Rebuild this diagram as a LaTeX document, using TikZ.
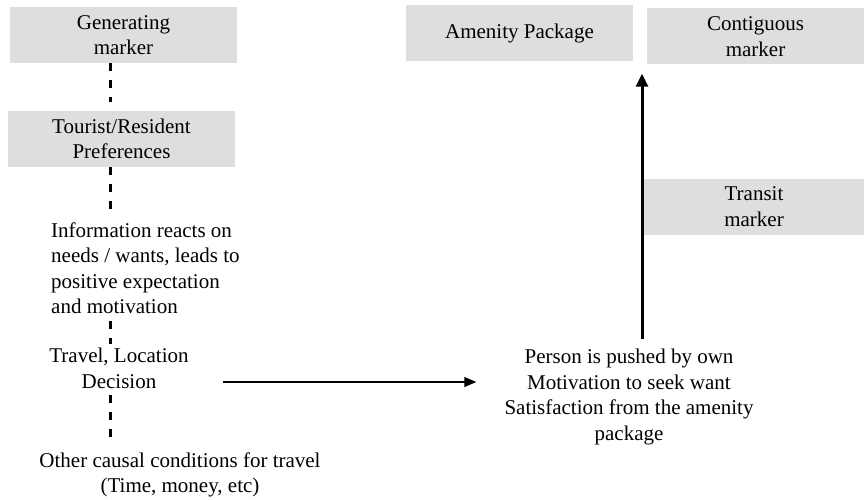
\documentclass[tikz,border=0pt]{standalone}
\usepackage{fontspec}
\setmainfont{Liberation Serif}
\usetikzlibrary{arrows, arrows.meta, calc, positioning}
\definecolor{markergray}{RGB}{221,222,224}
\tikzset{
	every node/.style={
		align=center,
		font=\fontsize{21}{25.5}\selectfont,
	},
}
\tikzstyle{markerbox} = [fill=markergray, minimum width=227pt, minimum height=56pt, inner sep=0pt]
\tikzstyle{note} = [inner sep=0pt]
\tikzstyle{link} = [line width=3pt, dash pattern=on 8pt off 9pt]
\tikzstyle{flow} = [line width=1.2pt, -{Triangle[length=12pt,width=10pt]}]
\tikzstyle{push} = [line width=3pt, -{Triangle[length=13pt,width=12pt]}]
\begin{document}
\begin{tikzpicture}[x=1pt, y=-1pt]
		\useasboundingbox (0,0) rectangle (864,500);
		
		\coordinate (axis) at (110.5,0);
		\coordinate (trunk) at (642,0);
		
		% left column
		\node[markerbox] (gen) at (123.5,35) {Generating \\ marker};
		\node[markerbox] (pref) at (121.5,139) {Tourist/Resident \\ Preferences};
		\node[note, align=left, anchor=west] (info) at (51,268) {Information reacts on \\ needs / wants, leads to \\ positive expectation \\ and motivation};
		\node[note] (dec) at (119,368.5) {Travel, Location \\ Decision};
		\node[note] (cause) at (180,475) {Other causal conditions for travel \\ (Time, money, etc)};
		
		% right column
		\node[markerbox] (amen) at (519.5,33.5) {Amenity Package};
		\node[markerbox, minimum width=217pt] (cont) at (755.5,36.5) {Contiguous \\ marker};
		\node[markerbox, minimum width=220pt] (trans) at (754,206.5) {Transit \\ marker};
		\node[note] (seek) at (629,397) {Person is pushed by own \\ Motivation to seek want \\ Satisfaction from the amenity \\ package};
		
		\draw[link, shorten >=9pt] (gen.south -| axis) -- (pref.north -| axis);
		\draw[link, shorten >=10pt] (pref.south -| axis) -- (info.north -| axis);
		\draw[link, shorten <=7pt, shorten >=4pt] (info.south -| axis) -- (dec.north -| axis);
		\draw[link, shorten <=6pt, shorten >=14pt] (dec.south -| axis) -- (cause.north -| axis);
		
		\draw[flow] ($(dec.east)+(34,13.5)$) -- ($(seek.west)+(-28,-15)$);
		\draw[push, shorten <=10pt, shorten >=12pt] (seek.north -| trunk) -- (amen.south -| trunk);
		
	\end{tikzpicture}
\end{document}
